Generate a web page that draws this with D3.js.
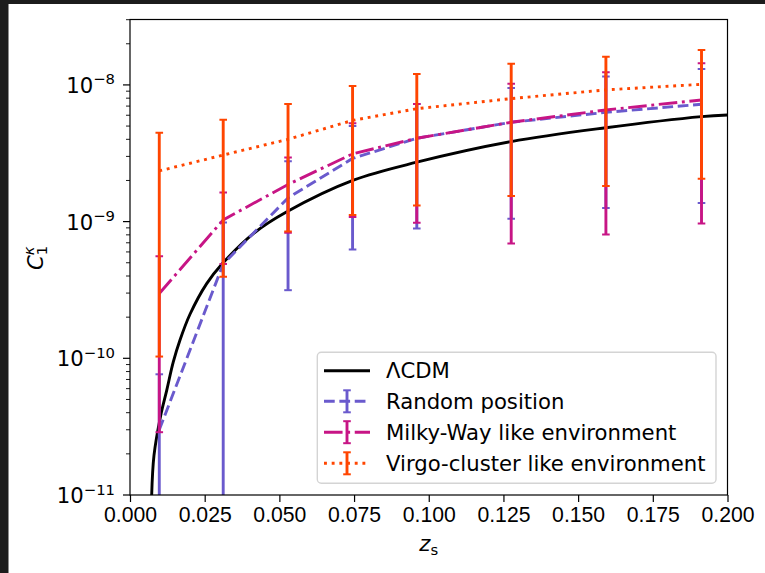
<!DOCTYPE html>
<html>
<head>
<meta charset="utf-8">
<script src="https://cdn.jsdelivr.net/npm/d3@7"></script>
<style>
  body { margin: 0; background: #fff; }
  svg { display: block; font-family: "DejaVu Sans", sans-serif; }
</style>
</head>
<body>
<div id="chart"></div>
<script>
const width = 765;
const height = 573;
const margin = { left: 130, top: 19.5, right: 37.5, bottom: 78 };

// source redshifts of the measured points
const zPoints = [0.0098, 0.0312, 0.0529, 0.0745, 0.096, 0.1276, 0.1593, 0.1913];

// Random position
const randomC = [3.0e-11, 4.9e-10, 1.49e-9, 2.9e-9, 4.07e-9, 5.33e-9, 6.3e-9, 7.22e-9];
const randomLo = [0, 0, 3.15e-10, 6.25e-10, 8.9e-10, 1.05e-9, 1.26e-9, 1.37e-9];
const randomHi = [7.64e-11, 9.87e-10, 2.76e-9, 5.0e-9, 7.26e-9, 9.5e-9, 1.15e-8, 1.31e-8];

// Milky-Way like environment
const milkyC = [2.98e-10, 1.03e-9, 1.87e-9, 3.13e-9, 4.07e-9, 5.33e-9, 6.56e-9, 7.76e-9];
const milkyLo = [2.88e-11, 4.9e-10, 8.3e-10, 1.08e-9, 9.8e-10, 6.92e-10, 8.05e-10, 9.7e-10];
const milkyHi = [5.58e-10, 1.63e-9, 2.94e-9, 5.24e-9, 7.26e-9, 1.02e-8, 1.24e-8, 1.44e-8];

// Virgo-cluster like environment
const virgoC = [2.35e-9, 3.07e-9, 4.0e-9, 5.5e-9, 6.7e-9, 7.94e-9, 9.2e-9, 1.01e-8];
const virgoLo = [1.03e-10, 3.95e-10, 8.47e-10, 1.12e-9, 1.31e-9, 1.54e-9, 1.82e-9, 2.06e-9];
const virgoHi = [4.47e-9, 5.55e-9, 7.26e-9, 9.83e-9, 1.2e-8, 1.43e-8, 1.61e-8, 1.8e-8];

// LambdaCDM curve
const lcdmZ = [0.00726, 0.00803, 0.01028, 0.01229, 0.01449, 0.01674, 0.02008, 0.02567, 0.0308, 0.0413, 0.0525, 0.0748, 0.096, 0.1276, 0.1593, 0.1913, 0.2];
const lcdmC = [1e-11, 1.95e-11, 3.82e-11, 5.83e-11, 9.4e-11, 1.36e-10, 2.1e-10, 3.52e-10, 4.89e-10, 8.18e-10, 1.18e-9, 2.01e-9, 2.72e-9, 3.85e-9, 4.86e-9, 5.86e-9, 6.03e-9];

const xTicks = [0, 0.025, 0.05, 0.075, 0.1, 0.125, 0.15, 0.175, 0.2];
const yTicks = [1e-11, 1e-10, 1e-9, 1e-8];
const yExps = ["−11", "−10", "−9", "−8"];

const seriesNames = ["Random position", "Milky-Way like environment", "Virgo-cluster like environment"];

const svg = d3.select("#chart").append("svg").attr("width", width).attr("height", height);

// dark strips at the image edges
svg.append("rect").attr("x", 0).attr("y", 0).attr("width", width).attr("height", 4).attr("fill", "#1c1c1c");
svg.append("rect").attr("x", 0).attr("y", 0).attr("width", 8.5).attr("height", height).attr("fill", "#1c1c1c");

const x = d3.scaleLinear().domain([0, 0.2]).range([margin.left, width - margin.right]);
const y = d3.scaleLog().domain([1e-11, 3.01e-8]).range([height - margin.bottom, margin.top]);

const x0 = x.range()[0], x1 = x.range()[1];
const yb = y.range()[0], yt = y.range()[1];
const yv = (v) => (v > 0 ? y(v) : yb + 20);

svg.append("clipPath").attr("id", "clip")
  .append("rect").attr("x", x0).attr("y", yt).attr("width", x1 - x0).attr("height", yb - yt);

const plot = svg.append("g").attr("clip-path", "url(#clip)");

const lw = 2.9;
const styles = [
  { color: "#6a5acd", dash: [3.7 * lw, 1.6 * lw] },
  { color: "#c71585", dash: [6.4 * lw, 1.6 * lw, 1 * lw, 1.6 * lw] },
  { color: "#ff4500", dash: [1 * lw, 1.65 * lw] },
];

// LambdaCDM
const lcdm = lcdmZ.map((z, i) => [z, lcdmC[i]]);
plot.append("path")
  .datum(lcdm)
  .attr("fill", "none")
  .attr("stroke", "#000")
  .attr("stroke-width", lw)
  .attr("d", d3.line().x((d) => x(d[0])).y((d) => y(d[1])).curve(d3.curveCatmullRom.alpha(0.5)));

const series = [
  [randomC, randomLo, randomHi],
  [milkyC, milkyLo, milkyHi],
  [virgoC, virgoLo, virgoHi],
];

const cap = 3.8;
series.forEach((s, k) => {
  const st = styles[k];
  const pts = zPoints.map((z, i) => ({ z: z, c: s[0][i], lo: s[1][i], hi: s[2][i] }));
  const g = plot.append("g");
  g.selectAll(".bar").data(pts).enter().append("line")
    .attr("x1", (d) => x(d.z)).attr("x2", (d) => x(d.z))
    .attr("y1", (d) => yv(d.lo)).attr("y2", (d) => yv(d.hi))
    .attr("stroke", st.color).attr("stroke-width", lw);
  ["lo", "hi"].forEach((key) => {
    g.selectAll(".cap-" + key).data(pts.filter((d) => d[key] > 0)).enter().append("line")
      .attr("x1", (d) => x(d.z) - cap).attr("x2", (d) => x(d.z) + cap)
      .attr("y1", (d) => y(d[key])).attr("y2", (d) => y(d[key]))
      .attr("stroke", st.color).attr("stroke-width", 2);
  });
  g.append("path").datum(pts)
    .attr("fill", "none")
    .attr("stroke", st.color)
    .attr("stroke-width", lw)
    .attr("stroke-dasharray", st.dash.join(","))
    .attr("d", d3.line().x((d) => x(d.z)).y((d) => y(d.c)));
});

// axes
const fs = 21.2;
const fss = 14.8;
const xAxis = svg.append("g").attr("transform", `translate(0,${yb})`)
  .call(d3.axisBottom(x).tickValues(xTicks).tickSize(7).tickPadding(5).tickFormat(d3.format(".3f")));
xAxis.select(".domain").remove();
xAxis.selectAll(".tick line").attr("stroke-width", 1.2);
xAxis.selectAll(".tick text").attr("font-size", fs).attr("fill", "#000");

const minor = [];
for (let e = -11; e <= -8; e++) {
  for (let m = 2; m <= 9; m++) {
    const v = m * Math.pow(10, e);
    if (v <= y.domain()[1]) minor.push(v);
  }
}
const yAxis = svg.append("g").attr("transform", `translate(${x0},0)`);
yAxis.selectAll(".minor").data(minor).enter().append("line")
  .attr("x1", -4).attr("x2", 0).attr("y1", (d) => y(d)).attr("y2", (d) => y(d))
  .attr("stroke", "#000").attr("stroke-width", 0.9);
yAxis.selectAll(".major").data(yTicks).enter().append("line")
  .attr("x1", -7).attr("x2", 0).attr("y1", (d) => y(d)).attr("y2", (d) => y(d))
  .attr("stroke", "#000").attr("stroke-width", 1.2);
const yl = yAxis.selectAll(".lab").data(yTicks).enter().append("text")
  .attr("x", -15).attr("y", (d) => y(d) + 8).attr("text-anchor", "end").attr("font-size", fs);
yl.append("tspan").text("10");
yl.append("tspan").attr("font-size", fss).attr("dy", -8.5).text((d, i) => yExps[i]);

// frame
svg.append("rect").attr("x", x0).attr("y", yt).attr("width", x1 - x0).attr("height", yb - yt)
  .attr("fill", "none").attr("stroke", "#000").attr("stroke-width", 1.2);

// axis labels
const xl = svg.append("text").attr("x", (x0 + x1) / 2).attr("y", 551).attr("text-anchor", "middle").attr("font-size", fs);
xl.append("tspan").attr("font-style", "italic").text("z");
xl.append("tspan").attr("font-size", fss).attr("dy", 4).text("s");

const ylab = svg.append("text").attr("transform", "translate(43,258) rotate(-90)").attr("text-anchor", "middle").attr("font-size", fs);
ylab.append("tspan").attr("font-style", "italic").text("C");
ylab.append("tspan").attr("font-size", fss).attr("dy", -9).attr("font-style", "italic").text("κ");
ylab.append("tspan").attr("font-size", fss).attr("dx", -8.8).attr("dy", 13).text("1");

// legend
const lg = svg.append("g");
lg.append("rect").attr("x", 317.3).attr("y", 352.3).attr("width", 398.7).attr("height", 131)
  .attr("rx", 4).attr("fill", "#fff").attr("fill-opacity", 0.8).attr("stroke", "#d4d4d4").attr("stroke-width", 1.4);
const rowY = [370.7, 401.3, 432.2, 463.3];
const hx0 = 324, hx1 = 370, hxm = 347;
lg.append("line").attr("x1", hx0).attr("x2", hx1).attr("y1", rowY[0]).attr("y2", rowY[0])
  .attr("stroke", "#000").attr("stroke-width", lw);
lg.append("text").attr("x", 386).attr("y", rowY[0] + 7.6).attr("font-size", fs).text("ΛCDM");
styles.forEach((st, k) => {
  const ry = rowY[k + 1];
  lg.append("line").attr("x1", hx0).attr("x2", hx1).attr("y1", ry).attr("y2", ry)
    .attr("stroke", st.color).attr("stroke-width", lw).attr("stroke-dasharray", st.dash.join(","));
  lg.append("line").attr("x1", hxm).attr("x2", hxm).attr("y1", ry - 11).attr("y2", ry + 11)
    .attr("stroke", st.color).attr("stroke-width", lw);
  [ry - 11, ry + 11].forEach((cy) => {
    lg.append("line").attr("x1", hxm - cap).attr("x2", hxm + cap).attr("y1", cy).attr("y2", cy)
      .attr("stroke", st.color).attr("stroke-width", 2);
  });
  lg.append("text").attr("x", 386).attr("y", ry + 7.6).attr("font-size", fs).text(seriesNames[k]);
});
</script>
</body>
</html>
